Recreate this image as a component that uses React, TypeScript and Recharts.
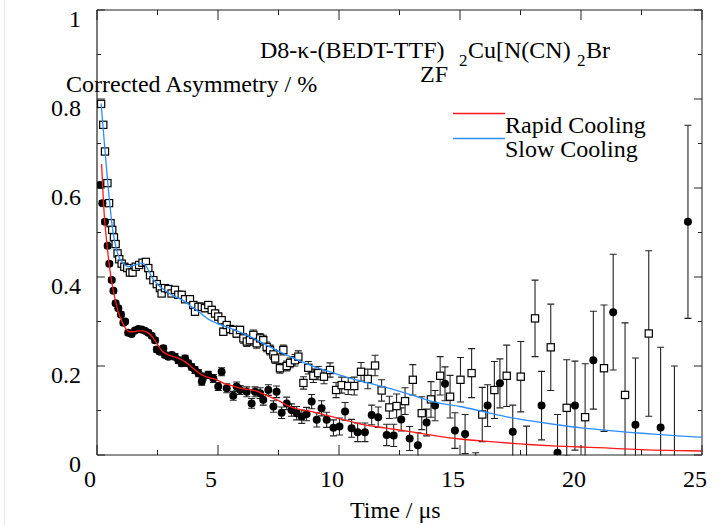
import React from 'react';
import { ScatterChart, Scatter, XAxis, YAxis, ErrorBar, Legend, Customized } from 'recharts';

const FONT = '"Liberation Serif", "Times New Roman", Times, serif';
const AXIS = '#222';

// Rapid cooling (filled circles)
const rapidTime = [0.12, 0.22, 0.33, 0.44, 0.51, 0.61, 0.68, 0.77, 0.88, 0.99, 1.09, 1.16, 1.29, 1.43, 1.57, 1.71, 1.84, 1.98, 2.12, 2.26, 2.40, 2.47, 2.60, 2.74, 2.81, 2.95, 3.09, 3.22, 3.36, 3.50, 3.64, 3.77, 3.91, 4.05, 4.19, 4.33, 4.39, 4.60, 4.81, 5.01, 5.15, 5.36, 5.63, 5.77, 5.91, 6.19, 6.39, 6.53, 6.74, 6.87, 7.08, 7.29, 7.42, 7.63, 7.84, 8.04, 8.25, 8.46, 8.66, 8.87, 9.08, 9.28, 9.49, 9.77, 10.02, 10.25, 10.52, 10.77, 11.07, 11.35, 11.62, 11.97, 12.26, 12.57, 12.92, 13.26, 13.62, 13.97, 14.38, 14.79, 15.21, 15.65, 16.14, 16.65, 17.18, 17.75, 18.37, 19.03, 19.75, 20.51, 21.33, 22.25, 23.29, 24.42];
const rapidAsym = [0.607, 0.566, 0.524, 0.470, 0.430, 0.393, 0.369, 0.341, 0.330, 0.316, 0.297, 0.300, 0.275, 0.272, 0.280, 0.283, 0.282, 0.279, 0.275, 0.268, 0.258, 0.237, 0.232, 0.240, 0.225, 0.221, 0.225, 0.221, 0.213, 0.206, 0.217, 0.206, 0.198, 0.191, 0.184, 0.165, 0.176, 0.180, 0.172, 0.154, 0.187, 0.150, 0.133, 0.154, 0.146, 0.142, 0.116, 0.142, 0.139, 0.124, 0.146, 0.109, 0.142, 0.095, 0.116, 0.101, 0.094, 0.086, 0.092, 0.120, 0.079, 0.105, 0.079, 0.061, 0.064, 0.098, 0.060, 0.051, 0.051, 0.090, 0.085, 0.045, 0.044, 0.080, 0.037, 0.022, 0.073, 0.111, 0.160, 0.055, 0.047, -0.040, 0.111, 0.161, 0.052, -0.010, 0.111, 0.005, 0.111, 0.213, 0.321, 0.068, 0.062, 0.524];
const rapidErr = [0.005, 0.005, 0.005, 0.005, 0.005, 0.005, 0.005, 0.005, 0.005, 0.005, 0.005, 0.005, 0.005, 0.005, 0.005, 0.005, 0.005, 0.005, 0.005, 0.005, 0.006, 0.006, 0.006, 0.006, 0.006, 0.006, 0.006, 0.007, 0.007, 0.007, 0.007, 0.007, 0.007, 0.008, 0.008, 0.008, 0.008, 0.008, 0.009, 0.009, 0.009, 0.010, 0.010, 0.010, 0.010, 0.011, 0.011, 0.011, 0.012, 0.012, 0.012, 0.013, 0.013, 0.013, 0.014, 0.014, 0.015, 0.015, 0.015, 0.016, 0.016, 0.017, 0.017, 0.018, 0.019, 0.020, 0.020, 0.021, 0.021, 0.022, 0.023, 0.024, 0.025, 0.026, 0.027, 0.028, 0.030, 0.034, 0.038, 0.040, 0.044, 0.045, 0.047, 0.055, 0.060, 0.075, 0.077, 0.086, 0.100, 0.110, 0.130, 0.150, 0.180, 0.217];

// Slow cooling (open squares)
const slowTime = [0.17, 0.26, 0.33, 0.43, 0.50, 0.56, 0.63, 0.70, 0.77, 0.85, 0.92, 1.02, 1.13, 1.25, 1.36, 1.47, 1.60, 1.74, 1.88, 2.02, 2.12, 2.19, 2.33, 2.47, 2.60, 2.67, 2.81, 2.95, 3.08, 3.22, 3.36, 3.50, 3.64, 3.84, 3.98, 4.05, 4.19, 4.33, 4.46, 4.60, 4.74, 4.88, 5.01, 5.15, 5.22, 5.36, 5.50, 5.63, 5.77, 5.91, 6.05, 6.19, 6.32, 6.46, 6.60, 6.74, 6.87, 7.01, 7.15, 7.29, 7.36, 7.56, 7.70, 7.84, 7.98, 8.18, 8.32, 8.53, 8.73, 8.94, 9.14, 9.38, 9.63, 9.88, 10.11, 10.38, 10.63, 10.91, 11.19, 11.49, 11.76, 12.08, 12.38, 12.73, 13.05, 13.42, 13.80, 14.18, 14.59, 15.02, 15.48, 15.92, 16.42, 16.93, 17.51, 18.10, 18.75, 19.41, 20.17, 20.95, 21.82, 22.80, 23.86];
const slowAsym = [0.789, 0.742, 0.682, 0.611, 0.566, 0.521, 0.506, 0.489, 0.474, 0.453, 0.440, 0.430, 0.423, 0.420, 0.410, 0.410, 0.423, 0.427, 0.432, 0.434, 0.420, 0.404, 0.393, 0.384, 0.375, 0.363, 0.375, 0.373, 0.363, 0.371, 0.360, 0.360, 0.350, 0.350, 0.337, 0.322, 0.333, 0.333, 0.330, 0.337, 0.326, 0.318, 0.311, 0.303, 0.277, 0.292, 0.283, 0.281, 0.273, 0.281, 0.262, 0.255, 0.258, 0.270, 0.251, 0.262, 0.258, 0.243, 0.236, 0.226, 0.217, 0.195, 0.236, 0.200, 0.207, 0.213, 0.221, 0.162, 0.196, 0.178, 0.184, 0.176, 0.191, 0.146, 0.157, 0.155, 0.155, 0.187, 0.171, 0.201, 0.145, 0.107, 0.110, 0.121, 0.169, 0.094, 0.125, 0.178, 0.131, 0.169, 0.184, 0.091, 0.146, 0.178, 0.176, 0.307, 0.242, 0.106, 0.085, 0.195, 0.135, 0.273, -0.010];
const slowErr = [0.005, 0.005, 0.005, 0.005, 0.005, 0.005, 0.005, 0.005, 0.005, 0.005, 0.005, 0.005, 0.005, 0.005, 0.005, 0.005, 0.005, 0.005, 0.005, 0.005, 0.006, 0.006, 0.006, 0.006, 0.006, 0.006, 0.006, 0.006, 0.006, 0.006, 0.006, 0.006, 0.006, 0.006, 0.006, 0.008, 0.008, 0.008, 0.008, 0.008, 0.008, 0.008, 0.008, 0.008, 0.008, 0.008, 0.008, 0.008, 0.008, 0.008, 0.011, 0.011, 0.011, 0.011, 0.011, 0.011, 0.011, 0.011, 0.011, 0.011, 0.011, 0.011, 0.011, 0.011, 0.011, 0.013, 0.013, 0.014, 0.014, 0.015, 0.015, 0.016, 0.016, 0.017, 0.018, 0.019, 0.020, 0.021, 0.022, 0.023, 0.024, 0.025, 0.027, 0.030, 0.034, 0.037, 0.040, 0.043, 0.048, 0.050, 0.055, 0.061, 0.064, 0.069, 0.079, 0.086, 0.097, 0.108, 0.120, 0.142, 0.162, 0.186, 0.210];

// Fit curves
const rapidFitTime = [0.19, 0.3, 0.4, 0.5, 0.6, 0.7, 0.8, 0.9, 1.0, 1.1, 1.2, 1.35, 1.5, 1.7, 1.9, 2.1, 2.3, 2.5, 2.7, 2.9, 3.1, 3.3, 3.5, 3.7, 3.9, 4.1, 4.3, 4.5, 4.7, 4.9, 5.1, 5.3, 5.5, 6.0, 6.5, 7.0, 7.5, 8.0, 8.5, 9.0, 9.5, 10, 10.5, 11, 12, 13, 14, 15, 16, 17, 18, 19, 20, 21, 22, 23, 24, 25];
const rapidFitAsym = [0.654, 0.54, 0.48, 0.43, 0.392, 0.362, 0.338, 0.318, 0.304, 0.292, 0.283, 0.277, 0.277, 0.279, 0.279, 0.275, 0.265, 0.248, 0.233, 0.226, 0.222, 0.219, 0.214, 0.207, 0.198, 0.189, 0.181, 0.176, 0.173, 0.170, 0.165, 0.160, 0.157, 0.149, 0.145, 0.134, 0.122, 0.108, 0.101, 0.096, 0.089, 0.082, 0.075, 0.068, 0.060, 0.052, 0.043, 0.036, 0.031, 0.027, 0.023, 0.020, 0.018, 0.016, 0.013, 0.011, 0.010, 0.009];
const slowFitTime = [0.17, 0.26, 0.4, 0.54, 0.67, 0.81, 0.95, 1.1, 1.3, 1.57, 1.84, 2.05, 2.26, 2.53, 2.88, 3.22, 3.57, 3.84, 4.2, 4.67, 5.0, 5.5, 6.0, 6.32, 7.15, 7.98, 8.8, 9.63, 10.5, 11.2, 12, 13, 14, 15, 16, 17, 18, 19, 20, 21, 22, 23, 24, 25];
const slowFitAsym = [0.79, 0.73, 0.64, 0.558, 0.498, 0.461, 0.44, 0.43, 0.423, 0.427, 0.431, 0.423, 0.40, 0.382, 0.367, 0.356, 0.347, 0.336, 0.322, 0.303, 0.295, 0.285, 0.274, 0.266, 0.243, 0.221, 0.202, 0.187, 0.172, 0.162, 0.151, 0.135, 0.118, 0.109, 0.097, 0.085, 0.076, 0.068, 0.061, 0.056, 0.051, 0.047, 0.043, 0.040];

const xTicks = [0, 2.5, 5, 7.5, 10, 12.5, 15, 17.5, 20, 22.5, 25];
const xTickLabels = ['0', '', '5', '', '10', '', '15', '', '20', '', '25'];
const yTicks = [0, 0.1, 0.2, 0.3, 0.4, 0.5, 0.6, 0.7, 0.8, 0.9, 1];
const yTickLabels = ['0', '', '0.2', '', '0.4', '', '0.6', '', '0.8', '', '1'];

const legendNames = ['Rapid Cooling', 'Slow Cooling'];
const legendColors = ['#ff1a1a', '#2b8fff'];

const rapidData = rapidTime.map((t, i) => ({ t, a: rapidAsym[i], err: rapidErr[i] }));
const slowData = slowTime.map((t, i) => ({ t, a: slowAsym[i], err: slowErr[i] }));
const rapidFit = rapidFitTime.map((t, i) => ({ t, a: rapidFitAsym[i] }));
const slowFit = slowFitTime.map((t, i) => ({ t, a: slowFitAsym[i] }));

const CHART_W = 719;
const CHART_H = 525;
const MARGIN = { top: 9, right: 16, bottom: 69, left: 96 };
const PLOT = { x: 97, y: 10, w: 605, h: 445 };

const BottomTick = (p: any) => {
  const lab = xTickLabels[p.index];
  const major = lab !== '';
  return (
    <g>
      <line x1={p.x} x2={p.x} y1={p.y} y2={p.y - (major ? 10 : 5)} stroke={AXIS} strokeWidth={1} />
      {major && (
        <text x={p.x - 7} y={p.y + 32} textAnchor="middle" fontSize={24} fontFamily={FONT} fill="#000">{lab}</text>
      )}
    </g>
  );
};
const TopTick = (p: any) => {
  const major = xTickLabels[p.index] !== '';
  return <line x1={p.x} x2={p.x} y1={p.y} y2={p.y + (major ? 10 : 5)} stroke={AXIS} strokeWidth={1} />;
};
const LeftTick = (p: any) => {
  const lab = yTickLabels[p.index];
  const major = lab !== '';
  return (
    <g>
      <line x1={p.x} x2={p.x + (major ? 8 : 4)} y1={p.y} y2={p.y} stroke={AXIS} strokeWidth={1} />
      {major && (
        <text x={p.x - 16} y={p.y + 17} textAnchor="end" fontSize={24} fontFamily={FONT} fill="#000">{lab}</text>
      )}
    </g>
  );
};
const RightTick = (p: any) => {
  const major = yTickLabels[p.index] !== '';
  return <line x1={p.x} x2={p.x - (major ? 8 : 4)} y1={p.y} y2={p.y} stroke={AXIS} strokeWidth={1} />;
};

const Circle = (p: any) => <circle cx={p.cx} cy={p.cy} r={4} fill="#000" />;
const Square = (p: any) => (
  <rect x={p.cx - 3.6} y={p.cy - 3.6} width={7.2} height={7.2} fill="#fff" stroke="#000" strokeWidth={1.2} />
);
const NoShape = () => <g />;

const LegendContent = () => (
  <svg width={230} height={70} style={{ overflow: 'visible' }}>
    {legendNames.map((n, i) => (
      <g key={n}>
        <line x1={3} x2={55} y1={13.5 + i * 25} y2={13.5 + i * 25} stroke={legendColors[i]} strokeWidth={1.5} />
        <text x={55} y={33 + i * 24} fontSize={24} fontFamily={FONT} fill="#000">{n}</text>
      </g>
    ))}
  </svg>
);

const Annotations = () => (
  <g fontFamily={FONT} fill="#000">
    <text y={58} fontSize={24}>
      <tspan x={260}>D8-κ-(BEDT-TTF)</tspan>
      <tspan x={459} dy={8} fontSize={17}>2</tspan>
      <tspan x={468} dy={-8}>Cu[N(CN)</tspan>
      <tspan x={577} dy={8} fontSize={17}>2</tspan>
      <tspan x={586} dy={-8}>Br</tspan>
    </text>
    <text x={420} y={82} fontSize={24}>ZF</text>
    <text x={66} y={92} fontSize={24}>Corrected Asymmetry / %</text>
    <text x={350} y={518} fontSize={24}>Time /  μs</text>
  </g>
);

const clipCss = '.recharts-errorBars, .recharts-errorBar, .recharts-scatter-symbols { clip-path: url(#plotClip); }';

export default function App() {
  return (
    <div style={{ position: 'absolute', left: 0, top: 0, width: CHART_W, height: CHART_H, background: '#fff' }}>
      <style>{clipCss}</style>
      <svg width={0} height={0} style={{ position: 'absolute' }}>
        <defs>
          <clipPath id="plotClip">
            <rect x={PLOT.x} y={PLOT.y} width={PLOT.w} height={PLOT.h + 0.5} />
          </clipPath>
        </defs>
      </svg>
      <div style={{ position: 'absolute', left: 4, top: 0, width: 1, height: CHART_H, background: '#e8e8e8' }} />
      <ScatterChart width={CHART_W} height={CHART_H} margin={MARGIN}>
        <XAxis xAxisId="b" type="number" dataKey="t" domain={[0, 25]} ticks={xTicks} interval={0}
          height={1} tickSize={0} tickMargin={0} tickLine={false} tick={BottomTick}
          axisLine={{ stroke: AXIS, strokeWidth: 1.2 }} allowDataOverflow />
        <XAxis xAxisId="t" orientation="top" type="number" dataKey="t" domain={[0, 25]} ticks={xTicks} interval={0}
          height={1} tickSize={0} tickMargin={0} tickLine={false} tick={TopTick}
          axisLine={{ stroke: AXIS, strokeWidth: 1.2 }} allowDataOverflow />
        <YAxis yAxisId="l" type="number" dataKey="a" domain={[0, 1]} ticks={yTicks} interval={0}
          width={1} tickSize={0} tickMargin={0} tickLine={false} tick={LeftTick}
          axisLine={{ stroke: AXIS, strokeWidth: 1.2 }} allowDataOverflow />
        <YAxis yAxisId="r" orientation="right" type="number" dataKey="a" domain={[0, 1]} ticks={yTicks} interval={0}
          width={1} tickSize={0} tickMargin={0} tickLine={false} tick={RightTick}
          axisLine={{ stroke: '#444', strokeWidth: 1.2 }} allowDataOverflow />
        <Scatter name="Slow data" data={slowData} xAxisId="b" yAxisId="l" shape={Square} legendType="none" isAnimationActive={false}>
          <ErrorBar dataKey="err" direction="y" width={3.5} stroke="#222" strokeWidth={1.1} isAnimationActive={false} />
        </Scatter>
        <Scatter name="Rapid data" data={rapidData} xAxisId="b" yAxisId="l" shape={Circle} legendType="none" isAnimationActive={false}>
          <ErrorBar dataKey="err" direction="y" width={3.5} stroke="#222" strokeWidth={1.1} isAnimationActive={false} />
        </Scatter>
        <Scatter name="Rapid Cooling" data={rapidFit} xAxisId="t" yAxisId="r" shape={NoShape}
          line={{ stroke: legendColors[0], strokeWidth: 1.3 }} lineJointType="monotoneX" isAnimationActive={false} />
        <Scatter name="Slow Cooling" data={slowFit} xAxisId="t" yAxisId="r" shape={NoShape}
          line={{ stroke: legendColors[1], strokeWidth: 1.3 }} lineJointType="monotoneX" isAnimationActive={false} />
        <Legend layout="horizontal" verticalAlign="middle" align="center" content={LegendContent}
          wrapperStyle={{ left: 450, top: 100, width: 230, height: 70 }} />
        <Customized component={Annotations} />
      </ScatterChart>
    </div>
  );
}
